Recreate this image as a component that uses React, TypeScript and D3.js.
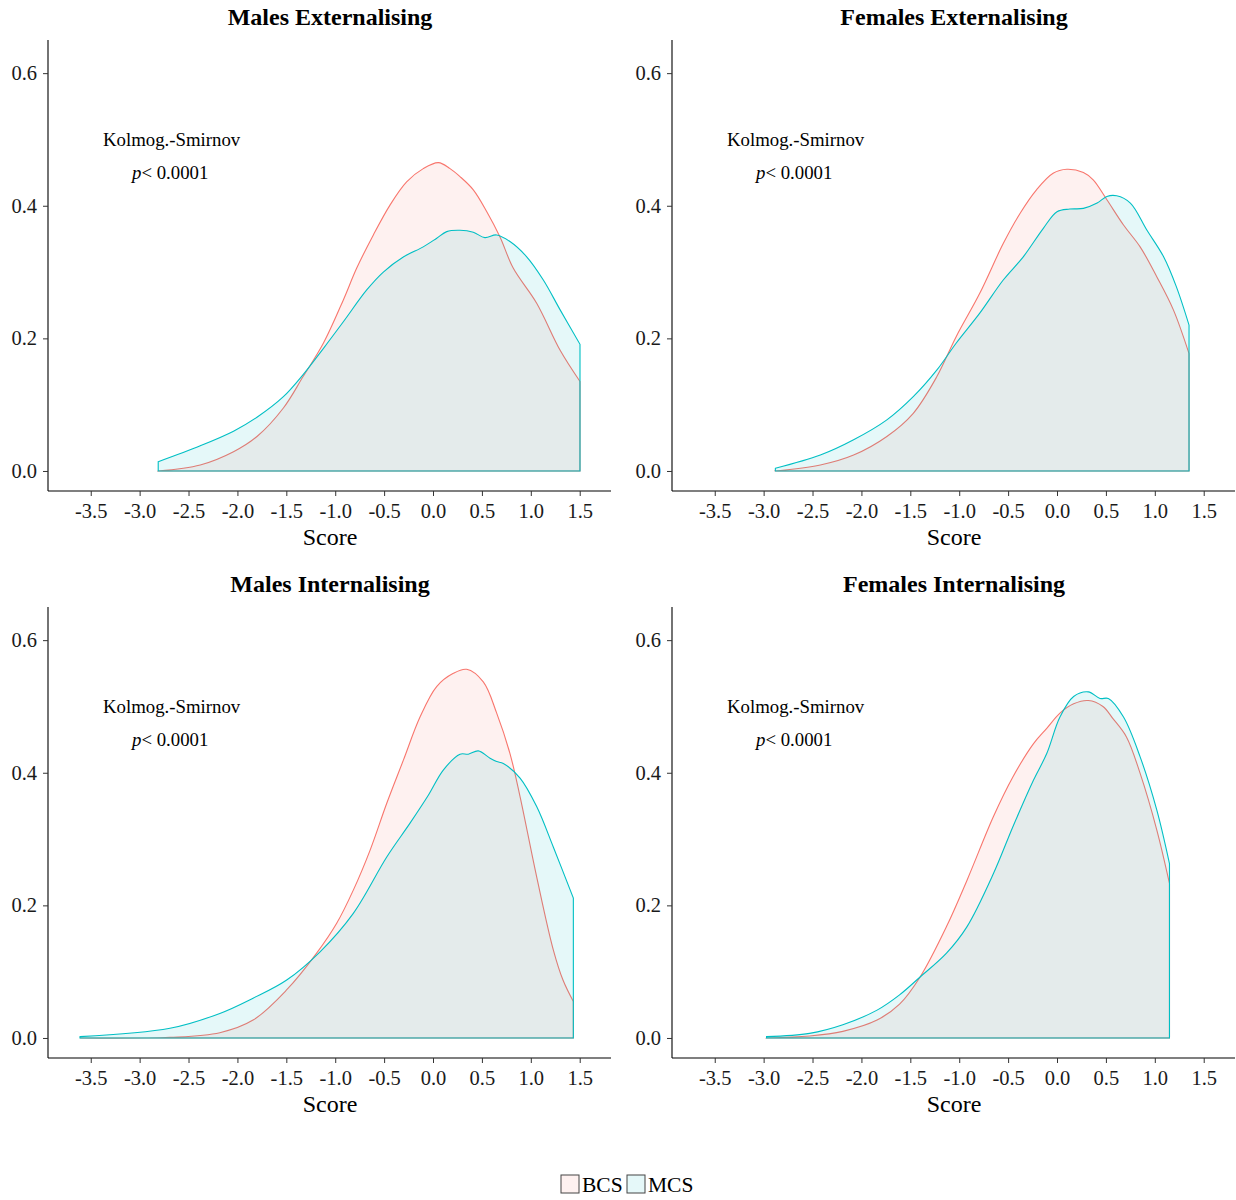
import React, { useEffect, useRef } from 'react';
import * as d3 from 'd3';

// density curves: [score, density]
const maleExtBCS = [[-2.81, 0], [-2.38, 0.009], [-2.04, 0.029], [-1.80, 0.052], [-1.53, 0.095], [-1.33, 0.142], [-1.12, 0.193], [-0.917, 0.258], [-0.78, 0.306], [-0.61, 0.356], [-0.44, 0.401], [-0.27, 0.436], [-0.10, 0.456], [0.055, 0.465], [0.174, 0.456], [0.276, 0.444], [0.412, 0.424], [0.55, 0.391], [0.685, 0.353], [0.82, 0.306], [1.06, 0.253], [1.30, 0.182], [1.503, 0.135]];
const maleExtMCS = [[-2.81, 0.014], [-2.38, 0.038], [-2.04, 0.060], [-1.80, 0.081], [-1.53, 0.112], [-1.33, 0.145], [-1.12, 0.185], [-0.917, 0.225], [-0.678, 0.273], [-0.508, 0.300], [-0.30, 0.323], [-0.10, 0.338], [0.038, 0.351], [0.14, 0.361], [0.276, 0.363], [0.412, 0.360], [0.53, 0.352], [0.65, 0.356], [0.787, 0.346], [0.958, 0.323], [1.128, 0.288], [1.30, 0.243], [1.503, 0.191]];

const femaleExtBCS = [[-2.88, 0], [-2.42, 0.009], [-2.08, 0.024], [-1.74, 0.052], [-1.47, 0.087], [-1.23, 0.142], [-1.03, 0.203], [-0.79, 0.268], [-0.55, 0.343], [-0.38, 0.388], [-0.21, 0.424], [-0.04, 0.449], [0.10, 0.455], [0.27, 0.450], [0.37, 0.439], [0.51, 0.409], [0.68, 0.371], [0.85, 0.338], [1.02, 0.293], [1.19, 0.243], [1.35, 0.177]];
const femaleExtMCS = [[-2.88, 0.004], [-2.42, 0.024], [-2.08, 0.047], [-1.74, 0.077], [-1.47, 0.112], [-1.23, 0.152], [-1.03, 0.193], [-0.79, 0.238], [-0.55, 0.288], [-0.345, 0.323], [-0.14, 0.366], [0.0, 0.391], [0.13, 0.395], [0.27, 0.396], [0.41, 0.404], [0.51, 0.414], [0.61, 0.415], [0.75, 0.404], [0.92, 0.363], [1.09, 0.323], [1.22, 0.278], [1.35, 0.220]];

const maleIntBCS = [[-3.61, 0], [-2.69, 0.001], [-2.18, 0.008], [-1.84, 0.027], [-1.50, 0.072], [-1.19, 0.128], [-0.985, 0.173], [-0.815, 0.223], [-0.644, 0.283], [-0.473, 0.354], [-0.303, 0.419], [-0.133, 0.484], [0.037, 0.530], [0.208, 0.550], [0.344, 0.556], [0.514, 0.537], [0.651, 0.490], [0.787, 0.429], [0.89, 0.364], [1.06, 0.243], [1.23, 0.133], [1.33, 0.087], [1.435, 0.055]];
const maleIntMCS = [[-3.61, 0.002], [-2.69, 0.0146], [-2.18, 0.037], [-1.84, 0.060], [-1.50, 0.087], [-1.155, 0.130], [-0.815, 0.188], [-0.473, 0.273], [-0.235, 0.324], [-0.048, 0.366], [0.105, 0.404], [0.276, 0.428], [0.361, 0.428], [0.463, 0.433], [0.583, 0.422], [0.651, 0.417], [0.719, 0.414], [0.89, 0.392], [1.06, 0.349], [1.23, 0.288], [1.435, 0.211]];

const femaleIntBCS = [[-2.97, 0], [-2.53, 0.003], [-2.19, 0.010], [-1.84, 0.027], [-1.61, 0.051], [-1.40, 0.092], [-1.13, 0.168], [-0.92, 0.238], [-0.65, 0.334], [-0.45, 0.394], [-0.24, 0.444], [-0.105, 0.467], [0.03, 0.490], [0.17, 0.504], [0.32, 0.509], [0.47, 0.500], [0.57, 0.482], [0.71, 0.454], [0.85, 0.399], [1.02, 0.314], [1.15, 0.233]];
const femaleIntMCS = [[-2.97, 0.002], [-2.53, 0.007], [-2.19, 0.020], [-1.84, 0.042], [-1.61, 0.065], [-1.40, 0.092], [-1.13, 0.128], [-0.92, 0.168], [-0.65, 0.248], [-0.45, 0.319], [-0.24, 0.389], [-0.105, 0.429], [0.03, 0.484], [0.17, 0.515], [0.32, 0.522], [0.44, 0.512], [0.525, 0.512], [0.68, 0.484], [0.85, 0.424], [1.02, 0.344], [1.15, 0.263]];

const titles = ['Males Externalising', 'Females Externalising', 'Males Internalising', 'Females Internalising'];
const bcsSeries = [maleExtBCS, femaleExtBCS, maleIntBCS, femaleIntBCS];
const mcsSeries = [maleExtMCS, femaleExtMCS, maleIntMCS, femaleIntMCS];
const xTicks = [-3.5, -3.0, -2.5, -2.0, -1.5, -1.0, -0.5, 0.0, 0.5, 1.0, 1.5];
const yTicks = [0.0, 0.2, 0.4, 0.6];
const groups = ['BCS', 'MCS'];
const colors = ['#F8766D', '#00BFC4'];

const font = '"Liberation Serif", "Times New Roman", serif';

function App() {
    const ref = useRef(null);

    useEffect(() => {
        const svg = d3.select(ref.current);
        svg.selectAll('*').remove();

        const width = 563;
        const height = 451;

        const x = d3.scaleLinear().domain([-3.937, 1.82]).range([0, width]);
        const y = d3.scaleLinear().domain([-0.0302, 0.65]).range([height, 0]);

        titles.forEach((title, i) => {
            const col = i % 2;
            const row = Math.floor(i / 2);
            const g = svg.append('g')
                .attr('transform', `translate(${48 + col * 624}, ${40 + row * 567})`);

            g.append('text')
                .attr('x', 282)
                .attr('y', -15)
                .attr('text-anchor', 'middle')
                .attr('font-size', 24)
                .attr('font-weight', 'bold')
                .attr('font-family', font)
                .text(title);

            // densities, BCS under MCS, whole outline stroked
            [bcsSeries[i], mcsSeries[i]].forEach((pts, k) => {
                const first = pts[0][0];
                const last = pts[pts.length - 1][0];
                const line = d3.line()
                    .x(d => x(d[0]))
                    .y(d => y(d[1]))
                    .curve(d3.curveCatmullRom.alpha(0.5));
                const top = line(pts);
                const path = `M${x(first)},${y(0)}L${top.slice(1)}L${x(last)},${y(0)}Z`;
                g.append('path')
                    .attr('d', path)
                    .attr('fill', colors[k])
                    .attr('fill-opacity', 0.1)
                    .attr('stroke', colors[k])
                    .attr('stroke-width', 1.1);
            });

            const xAxis = d3.axisBottom(x).tickValues(xTicks).tickSize(5).tickPadding(7)
                .tickFormat(d => d.toFixed(1));
            const yAxis = d3.axisLeft(y).tickValues(yTicks).tickSize(5).tickPadding(6)
                .tickFormat(d => d.toFixed(1));

            const xg = g.append('g').attr('transform', `translate(0, ${height})`).call(xAxis);
            const yg = g.append('g').call(yAxis);
            [xg, yg].forEach(ag => {
                ag.select('.domain').attr('stroke', '#000').attr('stroke-width', 1.1);
                ag.selectAll('.tick line').attr('stroke', '#333');
                ag.selectAll('text')
                    .attr('font-size', 20.5)
                    .attr('font-family', font)
                    .attr('fill', '#1a1a1a');
            });
            xg.select('.domain').attr('d', `M0,0H${width}`);
            yg.select('.domain').attr('d', `M0,0V${height}`);

            g.append('text')
                .attr('x', 282)
                .attr('y', 505)
                .attr('text-anchor', 'middle')
                .attr('font-size', 24)
                .attr('font-family', font)
                .text('Score');

            g.append('text')
                .attr('x', 55)
                .attr('y', 106)
                .attr('font-size', 18.8)
                .attr('font-family', font)
                .text('Kolmog.-Smirnov');

            const p = g.append('text')
                .attr('x', 84)
                .attr('y', 139)
                .attr('font-size', 18.8)
                .attr('font-family', font);
            p.append('tspan').attr('font-style', 'italic').text('p');
            p.append('tspan').text('< 0.0001');
        });

        // legend
        const legend = svg.append('g').attr('transform', 'translate(561, 1175)');
        const offsets = [0, 66];
        groups.forEach((name, k) => {
            legend.append('rect')
                .attr('x', offsets[k])
                .attr('y', 0)
                .attr('width', 18)
                .attr('height', 18)
                .attr('fill', colors[k])
                .attr('fill-opacity', 0.1)
                .attr('stroke', '#444')
                .attr('stroke-width', 1);
            legend.append('text')
                .attr('x', offsets[k] + 21)
                .attr('y', 17)
                .attr('font-size', 21.5)
                .attr('font-family', font)
                .text(name);
        });
    }, []);

    return (
        <svg ref={ref} width={1236} height={1200} style={{ position: 'absolute', left: 0, top: 0 }} />
    );
}

export default App;
